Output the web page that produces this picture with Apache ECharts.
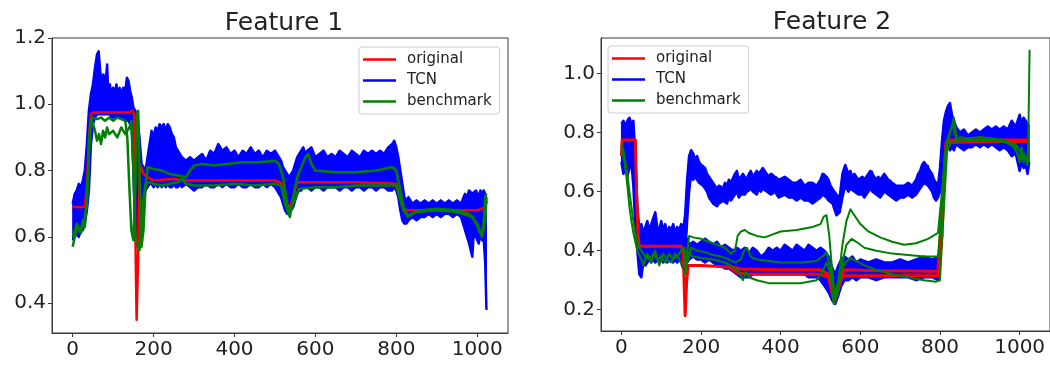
<!DOCTYPE html>
<html>
<head>
<meta charset="utf-8">
<script src="https://cdn.jsdelivr.net/npm/echarts@6/dist/echarts.min.js"></script>
<style>
  html, body { margin: 0; padding: 0; background: #fff; }
  #chart { width: 1050px; height: 369px; }
</style>
</head>
<body>
<div id="chart"></div>
<script>
// ---- Feature 1 ----
// TCN prediction envelope: [step, low, high]
const f1Tcn = [
  [0,0.59,0.70],[5,0.60,0.73],[10,0.61,0.74],[15,0.60,0.76],[20,0.62,0.75],[25,0.62,0.77],[30,0.64,0.80],
  [35,0.68,0.88],[40,0.74,0.98],[45,0.88,1.03],[50,0.94,1.06],[55,0.96,1.11],[60,0.97,1.15],[64,0.97,1.16],
  [68,0.97,1.10],[72,0.97,1.06],[76,0.97,1.09],[80,0.97,1.04],[85,0.97,1.12],[88,0.97,1.03],[92,0.97,1.06],
  [96,0.96,1.02],[100,0.96,1.05],[104,0.96,1.03],[108,0.96,1.06],[112,0.96,1.02],[116,0.96,1.05],[120,0.96,1.03],
  [125,0.96,1.05],[130,0.95,1.04],[134,0.95,1.08],[138,0.95,1.07],[142,0.94,1.04],[146,0.92,1.02],[150,0.80,0.99],
  [155,0.60,0.98],[160,0.57,0.96],[165,0.58,0.90],[170,0.62,0.82],[175,0.72,0.81],[180,0.74,0.80],[185,0.75,0.84],
  [190,0.76,0.88],[195,0.76,0.92],[200,0.75,0.90],[205,0.76,0.93],[210,0.75,0.92],[215,0.76,0.94],[220,0.75,0.93],
  [225,0.76,0.94],[230,0.75,0.92],[235,0.76,0.94],[240,0.75,0.93],[245,0.75,0.91],[250,0.76,0.90],[255,0.75,0.87],
  [260,0.75,0.86],[265,0.76,0.85],[270,0.75,0.84],[280,0.76,0.83],[290,0.75,0.84],[300,0.74,0.83],[310,0.75,0.84],
  [320,0.75,0.85],[330,0.76,0.83],[340,0.75,0.86],[350,0.75,0.85],[360,0.76,0.88],[370,0.75,0.86],[380,0.76,0.87],
  [390,0.75,0.85],[400,0.75,0.86],[410,0.76,0.84],[420,0.75,0.86],[430,0.75,0.85],[440,0.76,0.87],[450,0.75,0.85],
  [460,0.75,0.86],[470,0.76,0.84],[480,0.75,0.86],[490,0.76,0.85],[500,0.75,0.86],[505,0.74,0.85],[510,0.73,0.84],
  [515,0.72,0.83],[520,0.70,0.81],[525,0.68,0.80],[530,0.67,0.79],[535,0.67,0.78],[540,0.68,0.79],[545,0.69,0.80],
  [550,0.71,0.82],[555,0.73,0.84],[560,0.74,0.85],[565,0.74,0.86],[570,0.75,0.87],[575,0.75,0.85],[580,0.75,0.86],
  [590,0.74,0.87],[600,0.75,0.84],[610,0.75,0.85],[620,0.74,0.86],[630,0.75,0.84],[640,0.75,0.85],[650,0.75,0.84],
  [660,0.74,0.86],[670,0.75,0.85],[680,0.75,0.84],[690,0.74,0.86],[700,0.75,0.85],[710,0.75,0.84],[720,0.74,0.86],
  [730,0.75,0.85],[740,0.75,0.86],[750,0.74,0.85],[760,0.75,0.86],[770,0.75,0.85],[780,0.74,0.87],[790,0.74,0.88],
  [795,0.75,0.89],[800,0.74,0.87],[805,0.72,0.84],[810,0.68,0.80],[815,0.65,0.76],[820,0.64,0.72],[825,0.64,0.71],
  [830,0.65,0.72],[840,0.66,0.70],[850,0.65,0.71],[860,0.66,0.70],[870,0.66,0.71],[880,0.67,0.70],[890,0.66,0.71],
  [900,0.67,0.70],[910,0.66,0.71],[920,0.67,0.70],[930,0.67,0.71],[940,0.66,0.70],[950,0.67,0.71],[960,0.66,0.70],
  [970,0.62,0.73],[975,0.60,0.72],[980,0.58,0.74],[988,0.54,0.73],[992,0.62,0.73],[997,0.60,0.74],[1004,0.58,0.72],
  [1008,0.62,0.74],[1012,0.59,0.73],[1016,0.60,0.74],[1020,0.52,0.73],[1023,0.38,0.70]
];
const f1Original = [
  [0,0.69],[30,0.69],[35,0.75],[40,0.90],[45,0.97],[50,0.975],[100,0.975],[140,0.975],[148,0.98],[152,0.97],
  [155,0.60],[158,0.35],[162,0.55],[166,0.82],[170,0.82],[175,0.79],[185,0.78],[200,0.77],[250,0.775],[280,0.77],
  [300,0.77],[400,0.77],[500,0.77],[520,0.76],[530,0.70],[538,0.69],[545,0.72],[555,0.765],[600,0.765],[700,0.765],
  [800,0.76],[805,0.74],[815,0.69],[825,0.68],[1000,0.68],[1023,0.69]
];
const f1BenchA = [
  [0,0.57],[5,0.60],[10,0.62],[15,0.63],[20,0.62],[25,0.65],[30,0.63],[35,0.72],[40,0.85],[45,0.95],[50,0.96],
  [60,0.955],[70,0.96],[80,0.95],[90,0.96],[100,0.95],[110,0.96],[120,0.955],[130,0.95],[135,0.90],[140,0.75],
  [145,0.62],[150,0.59],[155,0.75],[158,0.97],[162,0.98],[166,0.75],[170,0.57],[175,0.62],[180,0.75],[185,0.81],
  [200,0.805],[220,0.80],[240,0.79],[260,0.785],[280,0.78],[290,0.80],[300,0.815],[320,0.82],[350,0.815],
  [380,0.82],[420,0.825],[460,0.825],[500,0.83],[510,0.82],[520,0.78],[530,0.70],[537,0.66],[545,0.72],
  [555,0.78],[565,0.81],[575,0.84],[582,0.85],[590,0.82],[600,0.80],[650,0.795],[700,0.795],[750,0.80],
  [790,0.81],[800,0.80],[810,0.74],[820,0.68],[828,0.66],[840,0.67],[860,0.68],[900,0.685],[950,0.68],
  [980,0.67],[1000,0.64],[1008,0.61],[1015,0.63],[1020,0.72],[1023,0.73]
];
const f1BenchB = [
  [0,0.60],[10,0.64],[20,0.61],[30,0.66],[35,0.70],[42,0.92],[48,0.95],[55,0.92],[60,0.89],[65,0.91],[70,0.88],
  [75,0.92],[80,0.90],[85,0.93],[90,0.91],[100,0.92],[110,0.90],[120,0.93],[130,0.91],[140,0.93],[145,0.95],
  [150,0.80],[155,0.60],[160,0.58],[165,0.56],[170,0.62],[175,0.72],[180,0.76],[190,0.765],[200,0.76],[220,0.755],
  [240,0.76],[260,0.765],[270,0.775],[280,0.76],[300,0.755],[350,0.755],[400,0.76],[450,0.755],[500,0.76],
  [515,0.755],[525,0.70],[535,0.665],[545,0.70],[560,0.745],[600,0.75],[650,0.75],[700,0.755],[750,0.755],
  [800,0.755],[808,0.72],[818,0.68],[830,0.665],[850,0.675],[900,0.68],[950,0.675],[990,0.66],[1005,0.62],
  [1012,0.60],[1020,0.65],[1023,0.72]
];

// ---- Feature 2 ----
const f2TcnUpper = [
  [0,0.70,0.83],[5,0.66,0.84],[10,0.68,0.82],[15,0.65,0.84],[20,0.68,0.85],[25,0.70,0.83],[30,0.62,0.84],
  [35,0.48,0.72],[40,0.40,0.55],[45,0.32,0.47],[50,0.31,0.49],[55,0.36,0.46],[60,0.35,0.48],[65,0.36,0.50],
  [70,0.37,0.47],[75,0.36,0.49],[80,0.37,0.51],[85,0.36,0.53],[90,0.37,0.48],[95,0.36,0.47],[100,0.37,0.50],
  [105,0.36,0.47],[110,0.37,0.49],[115,0.36,0.46],[120,0.37,0.48],[125,0.37,0.47],[130,0.36,0.49],[135,0.37,0.46],
  [140,0.36,0.48],[145,0.37,0.47],[150,0.36,0.49],[155,0.34,0.47],[160,0.38,0.52],[165,0.50,0.64],[170,0.60,0.72],
  [175,0.66,0.74],[180,0.64,0.73],[185,0.65,0.71],[190,0.64,0.72],[195,0.63,0.70],[200,0.63,0.69],[205,0.62,0.69],
  [210,0.61,0.68],[215,0.60,0.66],[220,0.58,0.65],[225,0.58,0.64],[230,0.56,0.63],[235,0.56,0.62],[240,0.55,0.61],
  [245,0.56,0.62],[250,0.56,0.62],[255,0.57,0.61],[260,0.57,0.63],[265,0.56,0.62],[270,0.58,0.64],[275,0.57,0.63],
  [280,0.58,0.63],[285,0.59,0.66],[290,0.60,0.67],[295,0.58,0.64],[300,0.59,0.64],[305,0.59,0.66],[310,0.59,0.65],
  [315,0.60,0.64],[320,0.60,0.66],[325,0.61,0.67],[330,0.60,0.65],[335,0.60,0.66],[340,0.59,0.67],[345,0.61,0.66],
  [350,0.60,0.66],[355,0.61,0.68],[360,0.61,0.67],[365,0.60,0.66],[370,0.60,0.65],[375,0.59,0.66],[380,0.59,0.66],
  [385,0.60,0.65],[390,0.59,0.65],[395,0.58,0.64],[400,0.58,0.64],[410,0.59,0.65],[420,0.58,0.64],[430,0.58,0.63],
  [440,0.57,0.63],[450,0.58,0.64],[460,0.57,0.62],[470,0.57,0.63],[480,0.56,0.63],[490,0.57,0.62],[500,0.58,0.64],
  [505,0.59,0.66],[510,0.59,0.66],[515,0.58,0.65],[520,0.57,0.64],[525,0.57,0.62],[530,0.56,0.61],[535,0.54,0.60],
  [540,0.52,0.59],[548,0.53,0.58],[555,0.58,0.66],[562,0.62,0.69],[570,0.60,0.66],[575,0.61,0.67],[580,0.61,0.65],
  [585,0.60,0.66],[590,0.60,0.65],[595,0.59,0.64],[600,0.59,0.64],[605,0.59,0.65],[610,0.58,0.64],[615,0.59,0.65],
  [620,0.60,0.66],[625,0.61,0.67],[630,0.60,0.67],[635,0.60,0.65],[640,0.59,0.64],[645,0.59,0.65],[650,0.58,0.64],
  [655,0.59,0.65],[660,0.60,0.66],[665,0.60,0.65],[670,0.59,0.64],[675,0.59,0.64],[680,0.58,0.63],[690,0.57,0.62],
  [700,0.58,0.62],[710,0.58,0.62],[720,0.59,0.63],[730,0.58,0.62],[740,0.59,0.64],[745,0.60,0.66],[750,0.61,0.67],
  [755,0.62,0.69],[760,0.63,0.70],[765,0.63,0.69],[770,0.62,0.69],[775,0.61,0.67],[780,0.60,0.66],[785,0.58,0.64],
  [790,0.57,0.63],[795,0.58,0.62],[800,0.60,0.68],[805,0.66,0.77],[810,0.73,0.84],[815,0.75,0.87],[820,0.76,0.89],
  [825,0.74,0.90],[830,0.75,0.86],[835,0.74,0.84],[840,0.76,0.82],[850,0.75,0.80],[860,0.74,0.81],[870,0.75,0.79],
  [880,0.75,0.80],[890,0.76,0.81],[900,0.75,0.80],[910,0.76,0.81],[920,0.75,0.82],[930,0.76,0.81],[940,0.75,0.82],
  [950,0.74,0.81],[960,0.75,0.82],[970,0.74,0.81],[980,0.72,0.84],[990,0.73,0.82],[1000,0.67,0.86],[1005,0.70,0.83],
  [1010,0.68,0.85],[1015,0.69,0.84],[1020,0.66,0.83],[1024,0.70,0.82]
];
const f2TcnLower = [
  [158,0.33,0.43],[165,0.36,0.44],[170,0.37,0.42],[180,0.38,0.43],[190,0.37,0.42],[200,0.37,0.43],[210,0.36,0.44],
  [220,0.37,0.43],[230,0.36,0.42],[240,0.35,0.43],[250,0.35,0.41],[260,0.34,0.42],[270,0.34,0.41],[280,0.33,0.40],
  [290,0.32,0.41],[300,0.31,0.40],[310,0.31,0.41],[320,0.31,0.39],[330,0.32,0.41],[340,0.32,0.40],[350,0.32,0.38],
  [360,0.32,0.39],[370,0.32,0.41],[380,0.32,0.40],[390,0.32,0.41],[400,0.32,0.40],[410,0.32,0.42],[420,0.32,0.41],
  [430,0.32,0.40],[440,0.32,0.42],[450,0.32,0.41],[460,0.32,0.40],[470,0.31,0.42],[480,0.31,0.41],[490,0.31,0.40],
  [500,0.30,0.41],[510,0.28,0.40],[520,0.26,0.38],[530,0.23,0.34],[537,0.22,0.32],[545,0.25,0.35],[552,0.28,0.37],
  [560,0.30,0.38],[570,0.30,0.37],[580,0.31,0.38],[590,0.30,0.36],[600,0.31,0.37],[620,0.31,0.36],[640,0.30,0.37],
  [660,0.31,0.36],[680,0.31,0.36],[700,0.31,0.37],[720,0.31,0.36],[740,0.30,0.37],[760,0.31,0.38],[780,0.31,0.37],
  [795,0.30,0.38],[800,0.32,0.40]
];
const f2Original = [
  [0,0.72],[2,0.775],[35,0.775],[38,0.60],[42,0.45],[45,0.415],[100,0.415],[150,0.415],[155,0.40],[160,0.18],
  [164,0.30],[168,0.35],[200,0.35],[270,0.345],[290,0.325],[320,0.32],[400,0.32],[500,0.32],[520,0.31],[530,0.25],
  [535,0.225],[545,0.27],[555,0.315],[600,0.315],[700,0.315],[795,0.315],[805,0.45],[812,0.70],[818,0.775],
  [900,0.775],[1000,0.775],[1024,0.775]
];
const f2OriginalB = [
  [280,0.345],[300,0.338],[400,0.335],[500,0.335],[520,0.32],[535,0.24],[548,0.30],[560,0.335],[650,0.332],
  [795,0.33],[808,0.60],[815,0.765],[900,0.77],[1000,0.77],[1024,0.77]
];
const f2BenchA = [
  [0,0.76],[5,0.74],[10,0.70],[15,0.66],[20,0.60],[25,0.55],[30,0.50],[35,0.46],[40,0.43],[45,0.41],[50,0.40],
  [60,0.38],[70,0.37],[80,0.39],[90,0.37],[100,0.38],[110,0.36],[120,0.39],[130,0.37],[140,0.38],[150,0.40],
  [158,0.41],[162,0.34],[166,0.40],[170,0.45],[180,0.445],[200,0.44],[220,0.43],[240,0.42],[260,0.41],[275,0.39],
  [285,0.40],[292,0.45],[300,0.465],[310,0.47],[320,0.46],[340,0.45],[360,0.445],[380,0.455],[400,0.465],
  [440,0.47],[480,0.48],[500,0.49],[508,0.515],[515,0.52],[522,0.45],[530,0.32],[536,0.25],[545,0.30],[555,0.42],
  [565,0.50],[575,0.54],[585,0.52],[600,0.49],[620,0.465],[650,0.445],[680,0.43],[710,0.42],[740,0.425],
  [770,0.44],[795,0.46],[805,0.60],[815,0.76],[822,0.79],[830,0.82],[835,0.85],[840,0.80],[845,0.77],[850,0.785],
  [870,0.78],[900,0.785],[930,0.78],[960,0.775],[980,0.76],[990,0.74],[1000,0.71],[1005,0.75],[1010,0.70],
  [1015,0.72],[1020,0.69],[1022,0.80],[1025,1.08]
];
const f2BenchB = [
  [0,0.74],[5,0.72],[10,0.68],[15,0.62],[20,0.55],[25,0.50],[30,0.46],[35,0.43],[40,0.40],[50,0.37],[55,0.35],
  [65,0.39],[75,0.36],[85,0.40],[95,0.35],[105,0.39],[115,0.37],[125,0.36],[135,0.39],[145,0.37],[155,0.35],
  [160,0.32],[165,0.36],[175,0.41],[190,0.40],[210,0.395],[230,0.385],[250,0.38],[270,0.37],[285,0.36],[300,0.37],
  [308,0.40],[315,0.41],[325,0.38],[340,0.37],[370,0.365],[400,0.36],[450,0.36],[490,0.365],[505,0.38],[515,0.395],
  [525,0.34],[535,0.23],[545,0.28],[555,0.36],[565,0.42],[578,0.44],[590,0.43],[610,0.41],[640,0.40],[680,0.39],
  [720,0.385],[760,0.38],[795,0.38],[805,0.55],[815,0.74],[825,0.80],[832,0.83],[840,0.78],[850,0.77],[880,0.775],
  [920,0.78],[960,0.77],[990,0.75],[1000,0.70],[1010,0.73],[1020,0.70],[1024,0.72]
];
const f2BenchC = [
  [160,0.40],[180,0.38],[200,0.375],[230,0.37],[260,0.36],[280,0.345],[295,0.33],[305,0.30],[312,0.33],[320,0.31],
  [340,0.30],[370,0.29],[400,0.29],[450,0.29],[490,0.30],[505,0.33],[515,0.36],[525,0.32],[533,0.22],[542,0.25],
  [552,0.33],[562,0.36],[575,0.375],[590,0.365],[610,0.35],[640,0.335],[680,0.32],[720,0.31],[760,0.30],
  [790,0.295],[800,0.30],[808,0.50],[818,0.74],[830,0.77],[850,0.77],[900,0.775],[950,0.77],[990,0.76],
  [1010,0.72],[1024,0.70]
];

// axis ticks
const xTicks = [0, 200, 400, 600, 800, 1000];
const f1YTicks = [0.4, 0.6, 0.8, 1.0, 1.2];
const f2YTicks = [0.2, 0.4, 0.6, 0.8, 1.0];
const titles = ['Feature 1', 'Feature 2'];

const RED = '#ff0000', BLUE = '#0000ff', GREEN = '#008000';
const FONT = 'DejaVu Sans';
const TXT = '#222';
const SPINE = '#3a3a3a';

function line(name, pts, color, gi, width) {
  return {
    type: 'line', name, xAxisIndex: gi, yAxisIndex: gi, data: pts,
    symbol: 'none', showSymbol: false, silent: true,
    lineStyle: { color, width, join: 'round' }, itemStyle: { color }
  };
}

// blue envelope: each data row fills the quad up to the next row, edges drawn as lines
function band(name, rows, gi) {
  const fill = {
    type: 'custom', name, xAxisIndex: gi, yAxisIndex: gi, silent: true,
    itemStyle: { color: BLUE },
    data: rows,
    renderItem(params, api) {
      const i = params.dataIndex;
      if (i >= rows.length - 1) return null;
      const a = rows[i], b = rows[i + 1];
      const pts = [
        api.coord([a[0], a[1]]), api.coord([b[0], b[1]]),
        api.coord([b[0], b[2]]), api.coord([a[0], a[2]])
      ];
      return {
        type: 'polygon', shape: { points: pts },
        style: { fill: BLUE, stroke: BLUE, lineWidth: 1 }
      };
    }
  };
  return [
    fill,
    line(name, rows.map(r => [r[0], r[1]]), BLUE, gi, 2.5),
    line(name, rows.map(r => [r[0], r[2]]), BLUE, gi, 2.5)
  ];
}

function xAxis(gi) {
  return {
    type: 'value', gridIndex: gi, min: -51.25, max: 1076.25,
    splitLine: { show: false },
    axisLine: { show: true, onZero: false, lineStyle: { color: SPINE, width: 1 } },
    axisTick: { show: true, length: 4, lineStyle: { color: SPINE }, customValues: xTicks },
    axisLabel: { customValues: xTicks, margin: 7, fontFamily: FONT, fontSize: 20, color: TXT,
      formatter: v => String(v) }
  };
}
function yAxis(gi, min, max, ticks) {
  return {
    type: 'value', gridIndex: gi, min, max,
    splitLine: { show: false },
    axisLine: { show: true, onZero: false, lineStyle: { color: SPINE, width: 1 } },
    axisTick: { show: true, length: 4, lineStyle: { color: SPINE }, customValues: ticks },
    axisLabel: { customValues: ticks, margin: 6, fontFamily: FONT, fontSize: 20, color: TXT,
      formatter: v => v.toFixed(1) }
  };
}
function legend(left, top) {
  return {
    orient: 'vertical', left, top,
    data: [
      { name: 'original', itemStyle: { color: RED } },
      { name: 'TCN', itemStyle: { color: BLUE } },
      { name: 'benchmark', itemStyle: { color: GREEN } }
    ],
    icon: 'rect', itemWidth: 33, itemHeight: 2.5, itemGap: 6,
    padding: [5, 8, 5, 4],
    borderColor: '#cccccc', borderWidth: 1, borderRadius: 3,
    backgroundColor: 'rgba(255,255,255,0.8)',
    selectedMode: false,
    textStyle: { fontFamily: FONT, fontSize: 15, color: TXT, padding: [0, 0, 0, 6] }
  };
}

const series = [].concat(
  band('TCN', f1Tcn, 0),
  [line('original', f1Original, RED, 0, 2.5),
   line('benchmark', f1BenchB, GREEN, 0, 2.5),
   line('benchmark', f1BenchA, GREEN, 0, 2.5)],
  band('TCN', f2TcnUpper, 1),
  band('TCN', f2TcnLower, 1),
  [line('original', f2Original, RED, 1, 3),
   line('original', f2OriginalB, RED, 1, 3),
   line('benchmark', f2BenchC, GREEN, 1, 2),
   line('benchmark', f2BenchB, GREEN, 1, 2),
   line('benchmark', f2BenchA, GREEN, 1, 2)]
);

const chart = echarts.init(document.getElementById('chart'), null, { renderer: 'canvas' });
chart.setOption({
  animation: false,
  backgroundColor: '#fff',
  title: [
    { text: titles[0], left: 279, top: 6, textAlign: 'center',
      textStyle: { fontFamily: FONT, fontSize: 25, fontWeight: 'normal', color: TXT } },
    { text: titles[1], left: 827, top: 5, textAlign: 'center',
      textStyle: { fontFamily: FONT, fontSize: 25, fontWeight: 'normal', color: TXT } }
  ],
  legend: [legend(359, 47), legend(608, 46)],
  grid: [
    { left: 52, top: 38, width: 456, height: 295, show: true, borderColor: SPINE, borderWidth: 1, backgroundColor: 'transparent' },
    { left: 601, top: 38, width: 451, height: 293, show: true, borderColor: SPINE, borderWidth: 1, backgroundColor: 'transparent' }
  ],
  xAxis: [xAxis(0), xAxis(1)],
  yAxis: [yAxis(0, 0.31, 1.2, f1YTicks), yAxis(1, 0.128, 1.12, f2YTicks)],
  series
});
</script>
</body>
</html>
